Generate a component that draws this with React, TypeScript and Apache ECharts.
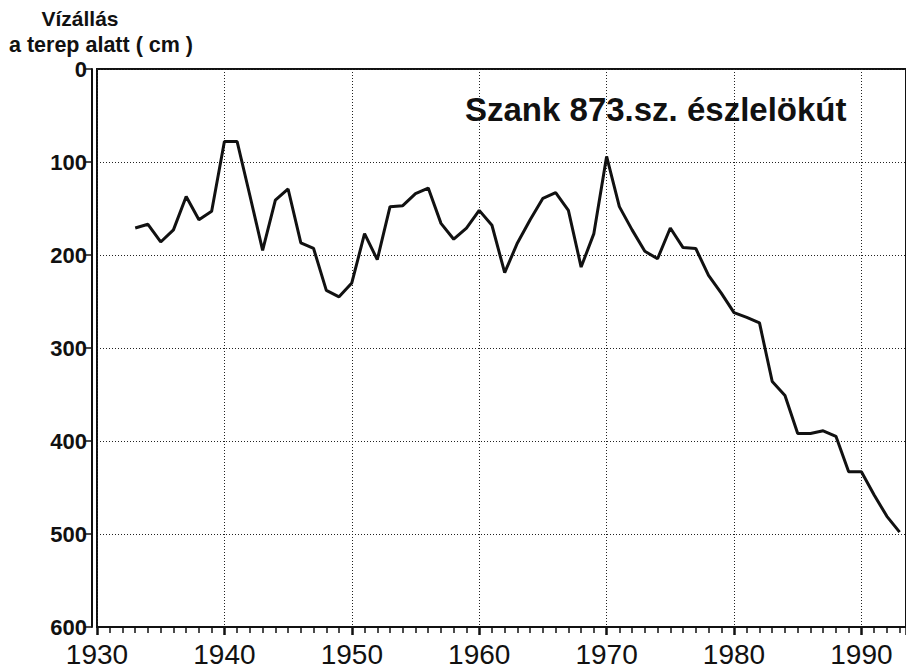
import React, { useEffect, useRef } from "react";
import * as echarts from "echarts";

const years: number[] = [
  1933, 1934, 1935, 1936, 1937, 1938, 1939, 1940, 1941, 1942, 1943, 1944, 1945, 1946, 1947, 1948, 1949,
  1950, 1951, 1952, 1953, 1954, 1955, 1956, 1957, 1958, 1959, 1960, 1961, 1962, 1963, 1964, 1965, 1966,
  1967, 1968, 1969, 1970, 1971, 1972, 1973, 1974, 1975, 1976, 1977, 1978, 1979, 1980, 1981, 1982, 1983,
  1984, 1985, 1986, 1987, 1988, 1989, 1990, 1991, 1992, 1993,
];
const depthCm: number[] = [
  171, 167, 186, 173, 137, 162, 153, 78, 78, 136, 195, 141, 129, 187, 193, 238, 245,
  230, 177, 205, 148, 147, 134, 128, 166, 183, 171, 152, 168, 219, 187, 162, 139, 133,
  152, 213, 177, 94, 148, 173, 196, 204, 171, 192, 193, 222, 241, 262, 267, 273, 336,
  351, 392, 392, 389, 395, 433, 433, 458, 481, 498,
];

const yTitleLine1 = "Vízállás";
const yTitleLine2 = "a terep alatt ( cm )";
const chartTitle = "Szank 873.sz. észlelökút";

const FONT = "'Liberation Sans', Arial, sans-serif";
const NARROW = "'Liberation Sans Narrow', 'Liberation Sans', Arial, sans-serif";

export default function App() {
  const ref = useRef<HTMLDivElement>(null);
  useEffect(() => {
    document.body.style.margin = "0";
    if (!ref.current) return;
    const chart = echarts.init(ref.current, undefined, { renderer: "svg" });
    const dotted = { color: "#222", width: 1, type: [1, 2] as any };
    chart.setOption({
      animation: false,
      backgroundColor: "#ffffff",
      grid: {
        left: 97, right: -3, top: 69, bottom: 45, containLabel: false,
        show: true, borderColor: "#111", borderWidth: 2, backgroundColor: "transparent",
      },
      title: [
        { text: yTitleLine1, left: 75, top: 3, textAlign: "center",
          textStyle: { fontFamily: FONT, fontWeight: "bold", fontSize: 21, color: "#111" } },
        { text: yTitleLine2, left: 4, top: 29,
          textStyle: { fontFamily: FONT, fontWeight: "bold", fontSize: 21.5, color: "#111" } },
        { text: chartTitle, left: 460, top: 88,
          textStyle: { fontFamily: FONT, fontWeight: "bold", fontSize: 33, color: "#111" } },
      ],
      xAxis: {
        type: "value", min: 1930, max: 1993.5, interval: 10, position: "bottom",
        axisLine: { show: true, onZero: false, lineStyle: { color: "#111", width: 2 } },
        axisTick: { show: true, length: 8, lineStyle: { color: "#111", width: 2.5 } },
        minorTick: { show: true, splitNumber: 10, length: 6, lineStyle: { color: "#111", width: 1.5 } },
        axisLabel: { fontFamily: NARROW, fontSize: 28, color: "#111", margin: 13, showMaxLabel: false,
          formatter: (v: number) => String(Math.round(v)) },
        splitLine: { show: true, lineStyle: dotted },
      },
      yAxis: {
        type: "value", min: 0, max: 600, interval: 100, inverse: true, offset: 5,
        axisLine: { show: true, onZero: false, lineStyle: { color: "#111", width: 2 } },
        axisTick: { show: true, length: 7, lineStyle: { color: "#111", width: 1.5 } },
        axisLabel: { fontFamily: FONT, fontWeight: "bold", fontSize: 22, color: "#111", margin: 5 },
        splitLine: { show: true, lineStyle: dotted },
      },
      series: [
        {
          type: "line",
          data: years.map((y, i) => [y, depthCm[i]]),
          showSymbol: false, symbol: "none",
          lineStyle: { color: "#111", width: 3 },
        },
      ],
    });
    return () => chart.dispose();
  }, []);
  return <div ref={ref} style={{ width: 906, height: 672 }} />;
}
